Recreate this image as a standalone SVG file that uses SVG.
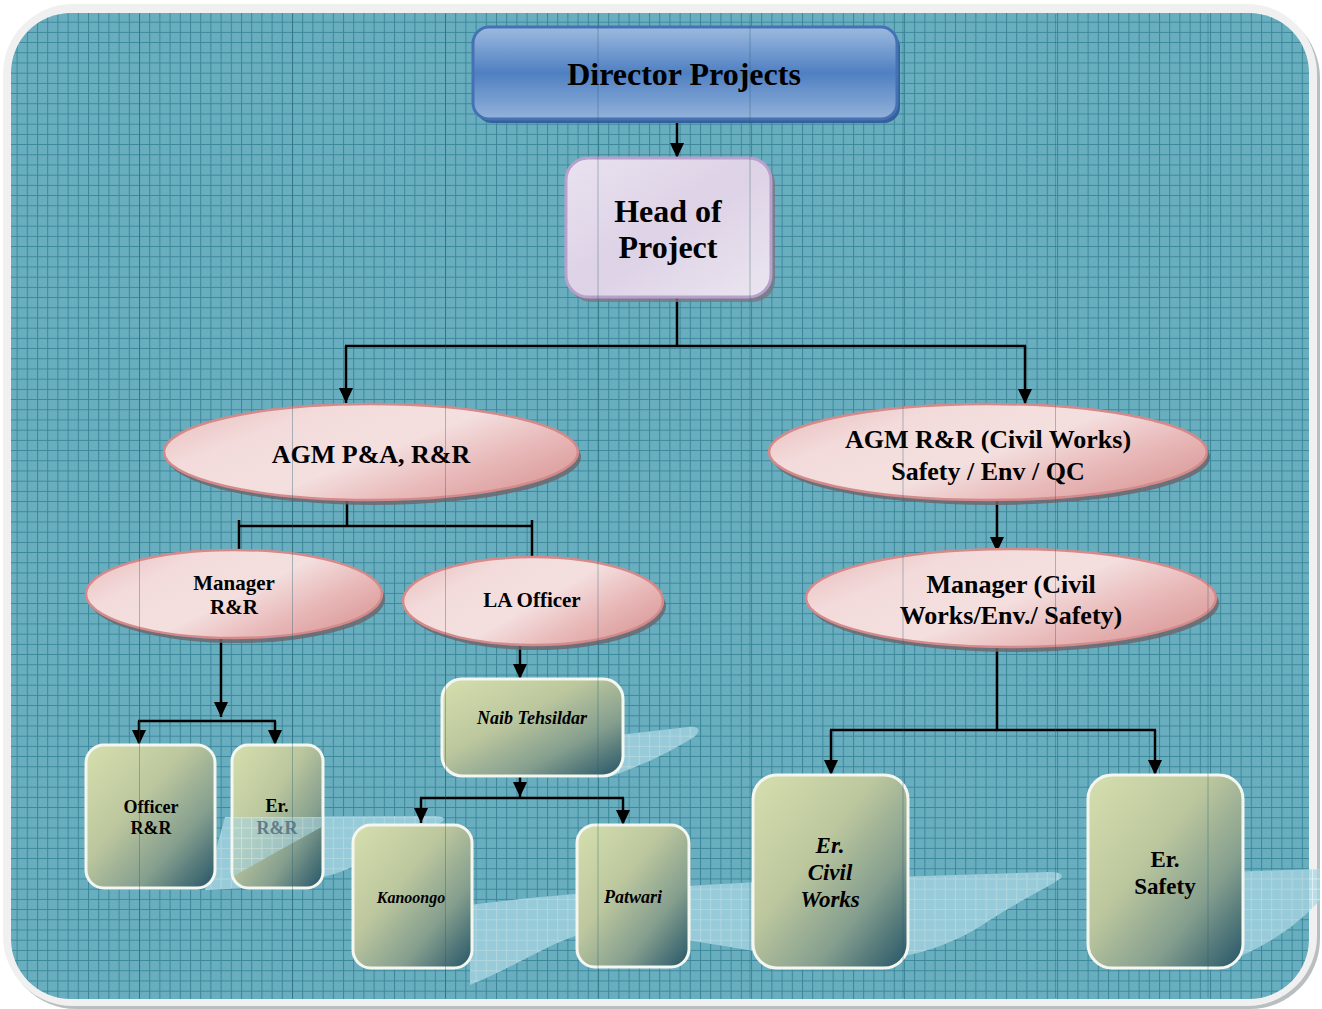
<svg xmlns="http://www.w3.org/2000/svg" width="1322" height="1009" viewBox="0 0 1322 1009">
<defs>
<style>
.t{font-family:"Liberation Serif","Times New Roman",serif;font-weight:bold;fill:#000;text-anchor:middle}
.i{font-style:italic}
.ln{fill:none;stroke:#000;stroke-width:2.5}
.gb{fill:url(#green);stroke:#f4f6f0;stroke-width:3}
.el{fill:url(#pink);stroke:#d48a8a;stroke-width:2.5}
.sh{fill:#6b6870;opacity:0.85}
.sw{fill:url(#swgrid);opacity:0.75}
.seam{stroke:#1d5a6a;stroke-width:1;opacity:0.35}
</style>
<pattern id="grid" x="6.4" y="1.3" width="10.2" height="10.2" patternUnits="userSpaceOnUse">
<rect width="10.2" height="10.2" fill="#69aebf"/>
<path d="M0,0.5 H10.2 M0.5,0 V10.2" stroke="#3b879b" stroke-width="1"/>
</pattern>
<pattern id="swgrid" x="6.4" y="1.3" width="10.2" height="10.2" patternUnits="userSpaceOnUse">
<rect width="10.2" height="10.2" fill="#a6d5e1"/>
<path d="M0,0.5 H10.2 M0.5,0 V10.2" stroke="#d8f0f6" stroke-width="1"/>
</pattern>
<linearGradient id="blue" x1="0" y1="0" x2="0" y2="1">
<stop offset="0" stop-color="#9dbadf"/>
<stop offset="0.5" stop-color="#4f80c2"/>
<stop offset="1" stop-color="#93b2da"/>
</linearGradient>
<linearGradient id="lav" x1="0" y1="0" x2="1" y2="1">
<stop offset="0" stop-color="#e9e2ef"/>
<stop offset="0.5" stop-color="#ddd2e6"/>
<stop offset="1" stop-color="#ebe5f0"/>
</linearGradient>
<linearGradient id="pink" x1="0" y1="0" x2="1" y2="0.6">
<stop offset="0" stop-color="#e7b6b6"/>
<stop offset="0.3" stop-color="#f3dbdb"/>
<stop offset="0.6" stop-color="#f4dfdf"/>
<stop offset="0.85" stop-color="#e8b7b7"/>
<stop offset="1" stop-color="#dfa4a4"/>
</linearGradient>
<linearGradient id="green" x1="0" y1="0" x2="1" y2="1">
<stop offset="0" stop-color="#d5dfae"/>
<stop offset="0.4" stop-color="#bcc79e"/>
<stop offset="0.7" stop-color="#849e8e"/>
<stop offset="1" stop-color="#245467"/>
</linearGradient>
<marker id="arr" viewBox="0 0 15 14" refX="15" refY="7" markerWidth="15" markerHeight="14" markerUnits="userSpaceOnUse" orient="auto">
<path d="M0,0 L15,7 L0,14 Z" fill="#000"/>
</marker>
</defs>

<g id="frame">
<rect x="6" y="8" width="1314" height="1001" rx="70" fill="#8a9296" opacity="0.6"/>
<rect x="3" y="4" width="1314" height="1002" rx="70" fill="#f0f0f0"/>
<rect x="11" y="13" width="1298" height="986" rx="60" fill="url(#grid)"/>
</g>

<g id="swooshes">
<path class="sw" d="M205,890 C260,888 320,882 350,868 C390,848 420,832 442,822 C447,818 442,816 432,816 L225,817 Z"/>
<path class="sw" d="M610,736 L688,727 C700,726 701,731 694,737 C670,752 645,764 612,776 Z"/>
<path class="sw" d="M470,985 C520,965 560,935 600,930 C680,935 760,955 820,960 C880,965 940,955 990,920 C1030,895 1052,885 1061,878 C1064,874 1058,872 1050,872 L800,880 C700,885 560,893 470,905 Z"/>
<path class="sw" d="M1225,962 C1265,948 1298,925 1320,900 L1320,869 L1225,872 Z"/>
</g>

<g id="connectors">
<path class="ln" d="M677,118 V158" marker-end="url(#arr)"/>
<path class="ln" d="M677,298 V346 M345,346 H1026"/>
<path class="ln" d="M346,346 V403" marker-end="url(#arr)"/>
<path class="ln" d="M1025,346 V404" marker-end="url(#arr)"/>
<path class="ln" d="M347,500 V526 M239,526 H532 M239,520 V549 M532,520 V557"/>
<path class="ln" d="M997,500 V552" marker-end="url(#arr)"/>
<path class="ln" d="M221,638 V717" marker-end="url(#arr)"/>
<path class="ln" d="M138,721 H276"/>
<path class="ln" d="M139,721 V745" marker-end="url(#arr)"/>
<path class="ln" d="M275,721 V745" marker-end="url(#arr)"/>
<path class="ln" d="M520,645 V679" marker-end="url(#arr)"/>
<path class="ln" d="M520,776 V797" marker-end="url(#arr)"/>
<path class="ln" d="M420,798 H624"/>
<path class="ln" d="M421,798 V823" marker-end="url(#arr)"/>
<path class="ln" d="M623,798 V825" marker-end="url(#arr)"/>
<path class="ln" d="M997,647 V730 M830,730 H1156"/>
<path class="ln" d="M831,730 V775" marker-end="url(#arr)"/>
<path class="ln" d="M1155,730 V775" marker-end="url(#arr)"/>
</g>

<g id="director">
<rect x="476" y="31" width="424" height="92" rx="16" fill="#35609a"/>
<rect x="473" y="27" width="424" height="92" rx="16" fill="url(#blue)" stroke="#4572b4" stroke-width="3"/>
<text class="t" x="684" y="85" font-size="32">Director Projects</text>
</g>

<g id="head">
<rect x="569" y="162" width="206" height="140" rx="22" fill="#7a7682" opacity="0.8"/>
<rect x="566" y="158" width="205" height="139" rx="22" fill="url(#lav)" stroke="#b7a0cb" stroke-width="3"/>
<text class="t" x="668" y="222" font-size="32">Head of</text>
<text class="t" x="668" y="258" font-size="32">Project</text>
</g>

<g id="agm-pa">
<ellipse class="sh" cx="374" cy="457" rx="207" ry="48"/>
<ellipse class="el" cx="371" cy="452" rx="207" ry="48"/>
<text class="t" x="371" y="463" font-size="26">AGM P&amp;A, R&amp;R</text>
</g>

<g id="agm-rr">
<ellipse class="sh" cx="991" cy="457" rx="219" ry="48"/>
<ellipse class="el" cx="988" cy="452" rx="219" ry="48"/>
<text class="t" x="988" y="448" font-size="26">AGM R&amp;R (Civil Works)</text>
<text class="t" x="988" y="480" font-size="26">Safety / Env / QC</text>
</g>

<g id="manager-civil">
<ellipse class="sh" cx="1014" cy="603" rx="205" ry="49"/>
<ellipse class="el" cx="1011" cy="598" rx="205" ry="49"/>
<text class="t" x="1011" y="593" font-size="26">Manager (Civil</text>
<text class="t" x="1011" y="624" font-size="26">Works/Env./ Safety)</text>
</g>

<g id="manager-rr">
<ellipse class="sh" cx="237" cy="599" rx="148" ry="44"/>
<ellipse class="el" cx="234" cy="594" rx="148" ry="44"/>
<text class="t" x="234" y="590" font-size="21">Manager</text>
<text class="t" x="234" y="614" font-size="21">R&amp;R</text>
</g>

<g id="la-officer">
<ellipse class="sh" cx="536" cy="606" rx="130" ry="44"/>
<ellipse class="el" cx="533" cy="601" rx="130" ry="44"/>
<text class="t" x="532" y="607" font-size="21">LA Officer</text>
</g>

<g id="officer-rr">
<rect class="gb" x="86" y="745" width="129" height="143" rx="18"/>
<text class="t" x="151" y="813" font-size="18">Officer</text>
<text class="t" x="151" y="834" font-size="18">R&amp;R</text>
</g>

<g id="er-rr">
<rect class="gb" x="232" y="745" width="91" height="143" rx="16"/>
<text class="t" x="277" y="812" font-size="18">Er.</text>
<path d="M233.5,817 H321.5 V827 L233.5,876 Z" fill="url(#swgrid)" opacity="0.6"/>
<text class="t" x="277" y="834" font-size="18" style="fill:#627c88">R&amp;R</text>
</g>

<g id="naib">
<rect class="gb" x="442" y="679" width="181" height="97" rx="20"/>
<text class="t i" x="532" y="724" font-size="18">Naib Tehsildar</text>
</g>

<g id="kanoongo">
<rect class="gb" x="353" y="825" width="119" height="143" rx="18"/>
<text class="t i" x="411" y="903" font-size="16">Kanoongo</text>
</g>

<g id="patwari">
<rect class="gb" x="577" y="825" width="112" height="142" rx="18"/>
<text class="t i" x="633" y="903" font-size="18">Patwari</text>
</g>

<g id="er-civil">
<rect class="gb" x="753" y="775" width="155" height="193" rx="24"/>
<text class="t i" x="830" y="853" font-size="23">Er.</text>
<text class="t i" x="830" y="880" font-size="23">Civil</text>
<text class="t i" x="830" y="907" font-size="23">Works</text>
</g>

<g id="er-safety">
<rect class="gb" x="1088" y="775" width="155" height="193" rx="24"/>
<text class="t" x="1165" y="867" font-size="23">Er.</text>
<text class="t" x="1165" y="894" font-size="23">Safety</text>
</g>

<g id="seams">
<path class="seam" d="M139.5,14 V998 M292.5,14 V998 M445.5,14 V998 M598,14 V998 M750,14 V998 M903,14 V998 M1055.5,14 V998 M1208,14 V998"/>
</g>
</svg>
